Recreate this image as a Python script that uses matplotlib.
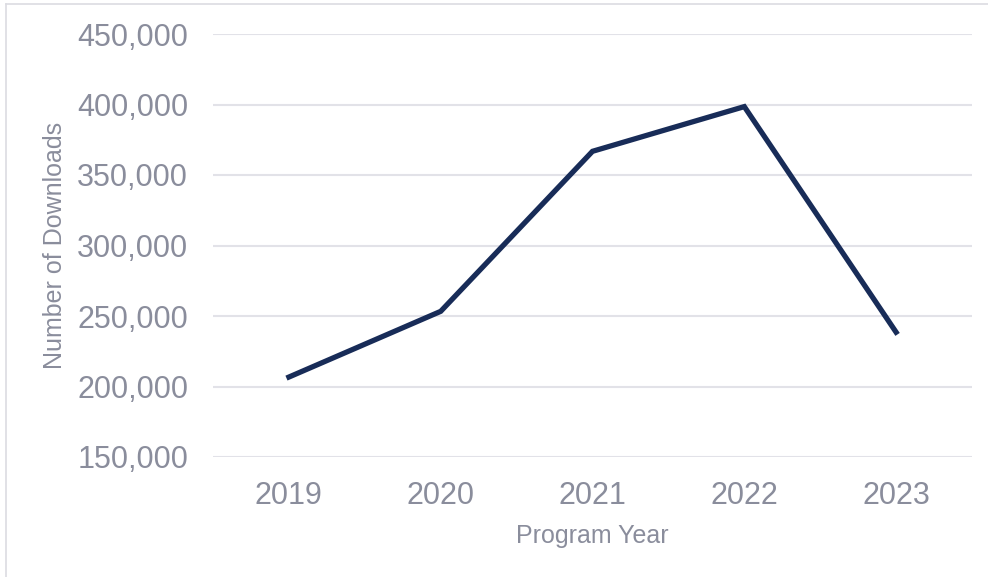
import matplotlib
matplotlib.use("Agg")
import matplotlib.pyplot as plt
from matplotlib.ticker import FuncFormatter
from matplotlib.lines import Line2D

years = ["2019", "2020", "2021", "2022", "2023"]
downloads = [206700, 253300, 366800, 398500, 238500]
y_ticks = [150000, 200000, 250000, 300000, 350000, 400000, 450000]

W, H = 988, 577
fig = plt.figure(figsize=(W / 100, H / 100), dpi=100)
plt.rcParams['font.family'] = ['Liberation Sans', 'DejaVu Sans']

ax = fig.add_axes([213 / W, 1 - 457 / H, (972 - 213) / W, (457 - 34) / H])
text_col = "#8a8d9c"
grid_col = "#e2e2e8"

x = list(range(len(years)))
ax.plot(x, downloads, color="#182c58", linewidth=3.8, solid_joinstyle="miter", zorder=3)
ax.set_xlim(-0.5, len(years) - 0.5)
ax.set_ylim(y_ticks[0], y_ticks[-1])
ax.set_yticks(y_ticks)
ax.yaxis.set_major_formatter(FuncFormatter(lambda v, p: f"{int(v):,}"))
ax.set_xticks(x)
ax.set_xticklabels(years)
ax.grid(axis="y", color=grid_col, linewidth=1.5)
ax.set_axisbelow(True)
for s in ax.spines.values():
    s.set_visible(False)
ax.tick_params(axis="both", length=0, labelsize=22, labelcolor=text_col)
ax.tick_params(axis="y", pad=18)
ax.tick_params(axis="x", pad=17)
ax.set_ylabel("Number of Downloads", fontsize=18, color=text_col, labelpad=7)
ax.set_xlabel("Program Year", fontsize=18, color=text_col, labelpad=9.5)

# outer chart border (top and left visible)
fig.add_artist(Line2D([6 / W, 1], [1 - 4 / H, 1 - 4 / H], color="#dcdce2", linewidth=1.2, transform=fig.transFigure))
fig.add_artist(Line2D([6 / W, 6 / W], [0, 1 - 4 / H], color="#dcdce2", linewidth=1.2, transform=fig.transFigure))

fig.savefig("out.png", dpi=100)
